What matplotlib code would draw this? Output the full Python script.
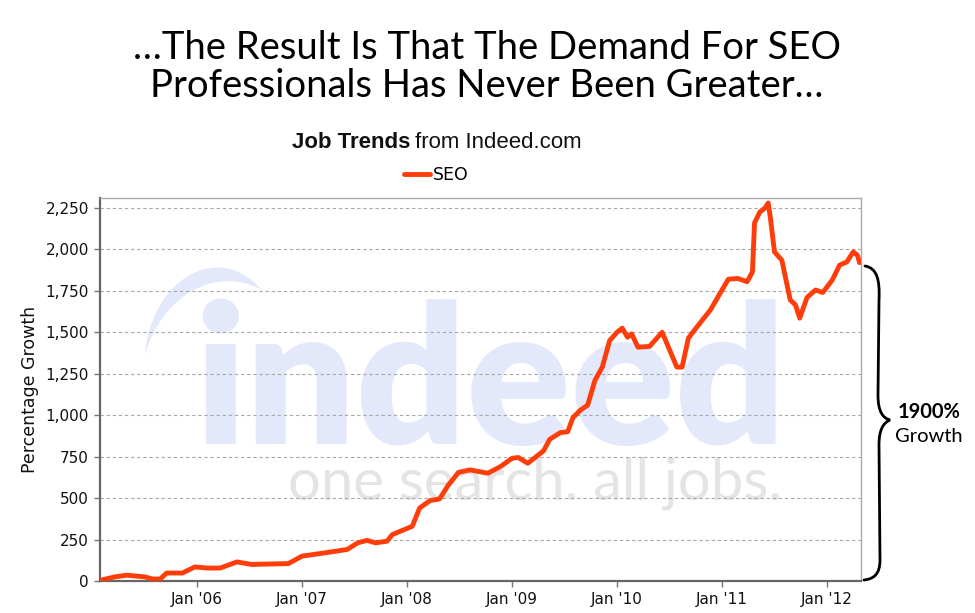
import matplotlib
matplotlib.use("Agg")
import matplotlib.pyplot as plt
from matplotlib.path import Path
from matplotlib.patches import PathPatch
from matplotlib.ticker import FuncFormatter

# ---- data ----
years = [2005.08, 2005.22, 2005.33, 2005.50, 2005.58, 2005.65, 2005.71, 2005.86, 2005.98,
         2006.10, 2006.22, 2006.38, 2006.52, 2006.87, 2007.00, 2007.22, 2007.43, 2007.53,
         2007.62, 2007.70, 2007.81, 2007.86, 2008.05, 2008.12, 2008.22, 2008.31, 2008.39,
         2008.49, 2008.60, 2008.77, 2008.89, 2009.00, 2009.06, 2009.15, 2009.24, 2009.30,
         2009.36, 2009.46, 2009.53, 2009.58, 2009.65, 2009.72, 2009.79, 2009.86, 2009.93,
         2010.00, 2010.05, 2010.10, 2010.14, 2010.20, 2010.31, 2010.43, 2010.57, 2010.62,
         2010.68, 2010.74, 2010.89, 2011.00, 2011.06, 2011.15, 2011.24, 2011.29, 2011.31,
         2011.36, 2011.41, 2011.44, 2011.46, 2011.50, 2011.57, 2011.65, 2011.70, 2011.74,
         2011.81, 2011.89, 2011.96, 2012.05, 2012.12, 2012.19, 2012.25, 2012.29, 2012.31]
seo_growth = [5, 25, 35, 25, 12, 12, 48, 48, 85,
              78, 78, 115, 100, 105, 150, 170, 190, 230,
              245, 230, 240, 280, 330, 440, 485, 495, 575,
              655, 670, 650, 690, 740, 745, 710, 755, 785,
              855, 895, 900, 985, 1030, 1060, 1210, 1290, 1450,
              1500, 1525, 1470, 1490, 1410, 1415, 1500, 1290, 1290,
              1465, 1515, 1635, 1755, 1820, 1825, 1805, 1865, 2160,
              2225, 2250, 2280, 2195, 1985, 1935, 1695, 1665, 1585,
              1710, 1755, 1740, 1815, 1905, 1925, 1985, 1965, 1920]
x_tick_years = [2006, 2007, 2008, 2009, 2010, 2011, 2012]
x_tick_labels = ["Jan '06", "Jan '07", "Jan '08", "Jan '09", "Jan '10", "Jan '11", "Jan '12"]
y_ticks = [0, 250, 500, 750, 1000, 1250, 1500, 1750, 2000, 2250]
series_name = "SEO"

W, H = 975, 613
fig = plt.figure(figsize=(W / 100, H / 100), dpi=100)
fig.patch.set_facecolor("white")


def px(x, y):
    return (x / W, 1 - y / H)


ax = fig.add_axes([100 / W, 1 - 581 / H, 761 / W, 383 / H])
ax.set_facecolor("white")
ax.set_axisbelow(True)

# watermark
wm_blue = "#e3e8fa"
ax.text(*px(194, 444), "indeed", transform=fig.transFigure, fontsize=139,
        family=["Lato", "DejaVu Sans"], fontweight="heavy", color=wm_blue,
        ha="left", va="baseline", zorder=0.1)
swoosh = Path([px(145, 355), px(150, 283), px(216, 238), px(262, 290),
               px(216, 265), px(162, 295), px(145, 355), px(145, 355)],
              [Path.MOVETO, Path.CURVE4, Path.CURVE4, Path.CURVE4,
               Path.CURVE4, Path.CURVE4, Path.CURVE4, Path.CLOSEPOLY])
ax.add_patch(PathPatch(swoosh, transform=fig.transFigure, facecolor=wm_blue,
                       edgecolor="none", zorder=0.1, clip_on=False))
ax.text(*px(288, 499), "one search. all jobs.", transform=fig.transFigure, fontsize=41.8,
        family=["Lato", "DejaVu Sans"], color="#e4e4e4",
        ha="left", va="baseline", zorder=0.1)

line_color = "#ff3d0a"
ax.plot(years, seo_growth, color=line_color, lw=3.5, solid_joinstyle="round",
        solid_capstyle="round", label=series_name, zorder=3)

ax.set_xlim(2005.076, 2012.324)
ax.set_ylim(0, 2310)
ax.set_xticks(x_tick_years)
ax.set_xticklabels(x_tick_labels)
ax.set_yticks(y_ticks)
ax.yaxis.set_major_formatter(FuncFormatter(lambda v, p: f"{int(v):,}"))
ax.grid(axis="y", color="#a8a8a8", linestyle=(0, (3, 2.5)), linewidth=0.8)
ax.grid(axis="x", visible=False)
ax.tick_params(axis="both", direction="out", length=4, width=1, color="#777777",
               labelsize=11, labelcolor="#111111", pad=4)
for s in ["left", "bottom"]:
    ax.spines[s].set_color("#666666")
    ax.spines[s].set_linewidth(1.6)
for s in ["top", "right"]:
    ax.spines[s].set_color("#aaaaaa")
    ax.spines[s].set_linewidth(1.0)
ax.set_ylabel("Percentage Growth", fontsize=12.5, color="#111111", labelpad=5)

# chart title
fig.text(*px(410, 143), "Job Trends", fontsize=16, family="Liberation Sans",
         fontweight="bold", color="#111111", ha="right", va="center")
fig.text(*px(415, 143), "from Indeed.com", fontsize=16, family="Liberation Sans",
         color="#111111", ha="left", va="center")

# legend
ax.legend(loc="center", bbox_to_anchor=px(436, 175), bbox_transform=fig.transFigure,
          frameon=False, fontsize=12.5, handlelength=1.5, handletextpad=0.15,
          borderpad=0, borderaxespad=0)

# slide title
fig.text(*px(487, 59), "\u2026The Result Is That The Demand For SEO", fontsize=27.5,
         family=["Lato", "DejaVu Sans"], color="black", ha="center", va="baseline")
fig.text(*px(487, 97), "Professionals Has Never Been Greater\u2026", fontsize=27.5,
         family=["Lato", "DejaVu Sans"], color="black", ha="center", va="baseline")

# brace annotation
brace_pts = [
    (865, 266), (877, 268), (880, 280), (879, 300),
    (878, 395),
    (878, 412), (883, 418), (890, 420),
    (883, 423), (879, 430), (879, 445),
    (880, 560),
    (880, 575), (873, 579), (864, 580),
]
codes = [Path.MOVETO, Path.CURVE4, Path.CURVE4, Path.CURVE4,
         Path.LINETO,
         Path.CURVE4, Path.CURVE4, Path.CURVE4,
         Path.CURVE4, Path.CURVE4, Path.CURVE4,
         Path.LINETO,
         Path.CURVE4, Path.CURVE4, Path.CURVE4]
brace = Path([px(*p) for p in brace_pts], codes)
fig.add_artist(PathPatch(brace, transform=fig.transFigure, fill=False,
                         edgecolor="black", lw=2.0, capstyle="round"))
fig.text(*px(929, 412), "1900%", fontsize=14.5, family=["Lato", "DejaVu Sans"],
         fontweight="bold", ha="center", va="center")
fig.text(*px(929, 436), "Growth", fontsize=14.5, family=["Lato", "DejaVu Sans"],
         ha="center", va="center")

fig.savefig("out.png", dpi=100)
